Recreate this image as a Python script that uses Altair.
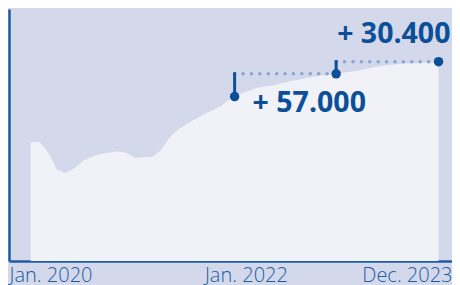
import altair as alt
import pandas as pd

# Monthly index: 0 = Jan. 2020 ... 47 = Dec. 2023
months = list(range(48))
values = [
    296800, 297500, 272500, 228750, 220000, 231250, 250000, 260000, 267500, 271250,
    273750, 270750, 258250, 259500, 260750, 276250, 308750, 328750, 342500, 355000,
    367500, 377500, 388750, 405000, 417000, 424250, 432500, 436250, 439500, 445000,
    450000, 453750, 458000, 461750, 465000, 468000, 470750, 473750, 476750, 482500,
    486250, 489250, 491250, 493750, 494250, 495000, 496250, 498400,
]

# Annotation markers
marker_t = [23.5, 35.2, 47]
marker_v = [411000, 468000, 498400]
delta_labels = ["+ 57.000", "+ 30.400"]

# Axis labels
tick_positions = [-2.5, 24.8, 48.55]
tick_labels = ["Jan. 2020", "Jan. 2022", "Dec. 2023"]

DARK = "#0b4f98"
AXIS = "#1d5ca4"
DOT = "#8ba5d4"
BG = "#d3d9ea"
AREA = "#f0f2f8"
FONT = "Open Sans"

area_df = pd.DataFrame({"t": months, "v": values})
marker_df = pd.DataFrame({"t": marker_t, "v": marker_v})
seg_df = pd.DataFrame({
    "t": marker_t[:-1], "t2": marker_t[1:],
    "v": marker_v[:-1], "v2": marker_v[1:],
    "label": delta_labels,
})

label_expr = ""
for i, (p, lab) in enumerate(zip(tick_positions, tick_labels)):
    if i < len(tick_positions) - 1:
        mid = (p + tick_positions[i + 1]) / 2
        label_expr += f"datum.value < {mid} ? '{lab}' : "
    else:
        label_expr += f"'{lab}'"

x_scale = alt.Scale(domain=[tick_positions[0], tick_positions[-1]], nice=False, zero=False)
y_scale = alt.Scale(domain=[0, 630000], nice=False)

x_axis = alt.Axis(
    values=tick_positions, labelExpr=label_expr, labelFlush=True, labelOverlap=False,
    ticks=False, grid=False, title=None, domainColor=AXIS, domainWidth=2.5,
    labelFontSize=20, labelColor=AXIS, labelFont=FONT, labelFontWeight=300, labelPadding=4,
)
y_axis = alt.Axis(labels=False, ticks=False, grid=False, title=None,
                  domainColor=AXIS, domainWidth=2.5)

area = alt.Chart(area_df).mark_area(color=AREA, opacity=1).encode(
    x=alt.X("t:Q", scale=x_scale, axis=x_axis),
    y=alt.Y("v:Q", scale=y_scale, axis=y_axis),
)

stems = alt.Chart(seg_df).mark_rule(color=DARK, strokeWidth=3, strokeCap="square").encode(
    x="t:Q", y="v:Q", y2="v2:Q"
)

dots = alt.Chart(seg_df).mark_rule(
    color=DOT, strokeWidth=3.5, strokeCap="round", strokeDash=[0.1, 8.3]
).encode(x="t:Q", x2="t2:Q", y="v2:Q")

points = alt.Chart(marker_df).mark_circle(color=DARK, size=90, opacity=1).encode(
    x="t:Q", y="v:Q"
)

text1 = alt.Chart(seg_df.iloc[[0]]).mark_text(
    align="left", baseline="middle", fontSize=28.5, fontWeight="bold",
    color=DARK, font=FONT, dx=18, dy=6,
).encode(x="t:Q", y="v:Q", text="label:N")

text2 = alt.Chart(seg_df.iloc[[1]]).mark_text(
    align="left", baseline="middle", fontSize=28.5, fontWeight="bold",
    color=DARK, font=FONT, dx=1, dy=-40,
).encode(x="t:Q", y="v:Q", text="label:N")

chart = alt.layer(area, dots, stems, points, text1, text2).properties(
    width=443, height=252,
    padding={"left": 1, "top": 1, "right": 0, "bottom": 0},
    background=BG,
).configure_view(stroke=None)

chart.save("out.html", embed_options={"renderer": "svg", "actions": False})
